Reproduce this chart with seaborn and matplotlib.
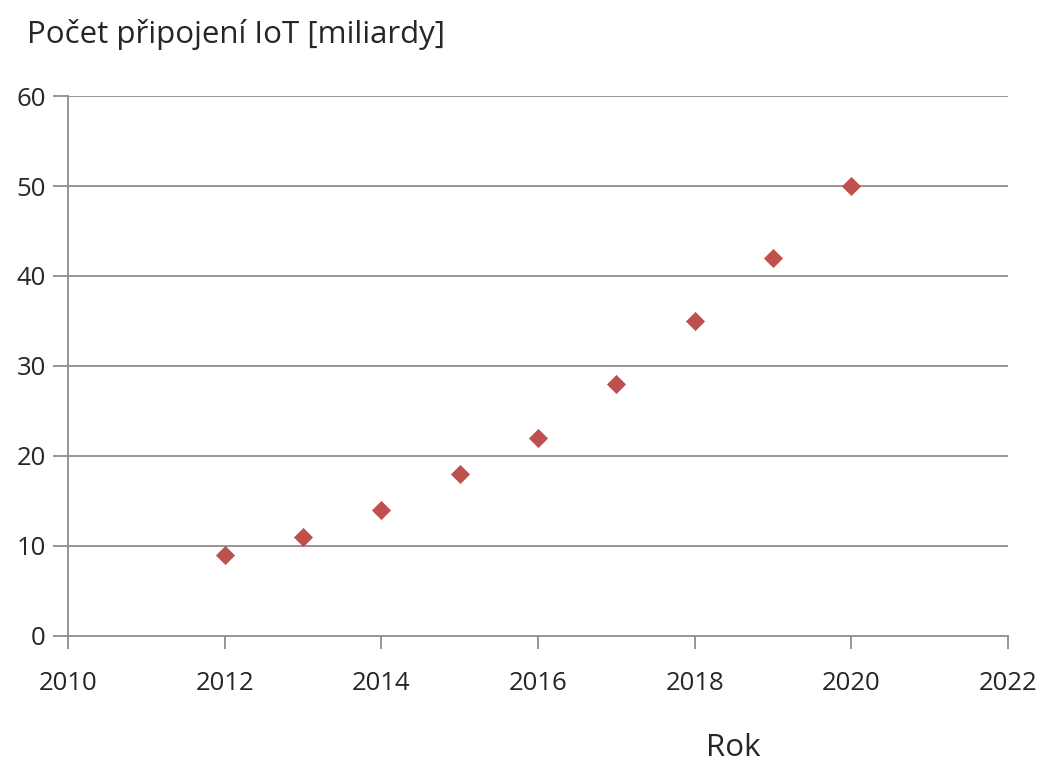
import matplotlib
matplotlib.use("Agg")
import matplotlib.pyplot as plt
import seaborn as sns
import pandas as pd

years = [2012, 2013, 2014, 2015, 2016, 2017, 2018, 2019, 2020]
connections = [9, 11, 14, 18, 22, 28, 35, 42, 50]
x_ticks = [2010, 2012, 2014, 2016, 2018, 2020, 2022]
y_ticks = [0, 10, 20, 30, 40, 50, 60]

sns.set_theme(style="white")
plt.rcParams["font.family"] = ["Open Sans", "DejaVu Sans"]

df = pd.DataFrame({"Rok": years, "Počet": connections})

fig = plt.figure(figsize=(10.41, 7.62), dpi=100)
ax = fig.add_axes([0.0653, 0.1654, 0.9030, 0.7086])

axis_grey = "#8c8c8c"
ax.set_axisbelow(True)
for y in y_ticks[1:]:
    ax.axhline(y, color=axis_grey, lw=1.3, zorder=0)

sns.scatterplot(data=df, x="Rok", y="Počet", marker="D", s=95,
                color="#c0504d", linewidth=0, ax=ax, zorder=3)

ax.set_xlim(2010, 2022)
ax.set_ylim(0, 60)
ax.set_xticks(x_ticks)
ax.set_yticks(y_ticks)
ax.set_xlabel("")
ax.set_ylabel("")

for side in ["top", "right"]:
    ax.spines[side].set_visible(False)
for side in ["left", "bottom"]:
    ax.spines[side].set_color(axis_grey)
    ax.spines[side].set_linewidth(1.3)

ax.tick_params(axis="both", which="major", bottom=True, left=True,
               length=9, width=1.3, color=axis_grey, labelsize=18.5,
               labelcolor="#262626", direction="out")
ax.tick_params(axis="x", pad=16)
ax.tick_params(axis="y", pad=5, length=11)

fig.text(0.026, 0.955, "Počet připojení IoT [miliardy]", fontsize=22.5,
         color="#262626", ha="left", va="center")
fig.text(0.704, 0.018, "Rok", fontsize=22.5, color="#262626",
         ha="center", va="center")

fig.savefig("out.png", dpi=100, facecolor="white")
